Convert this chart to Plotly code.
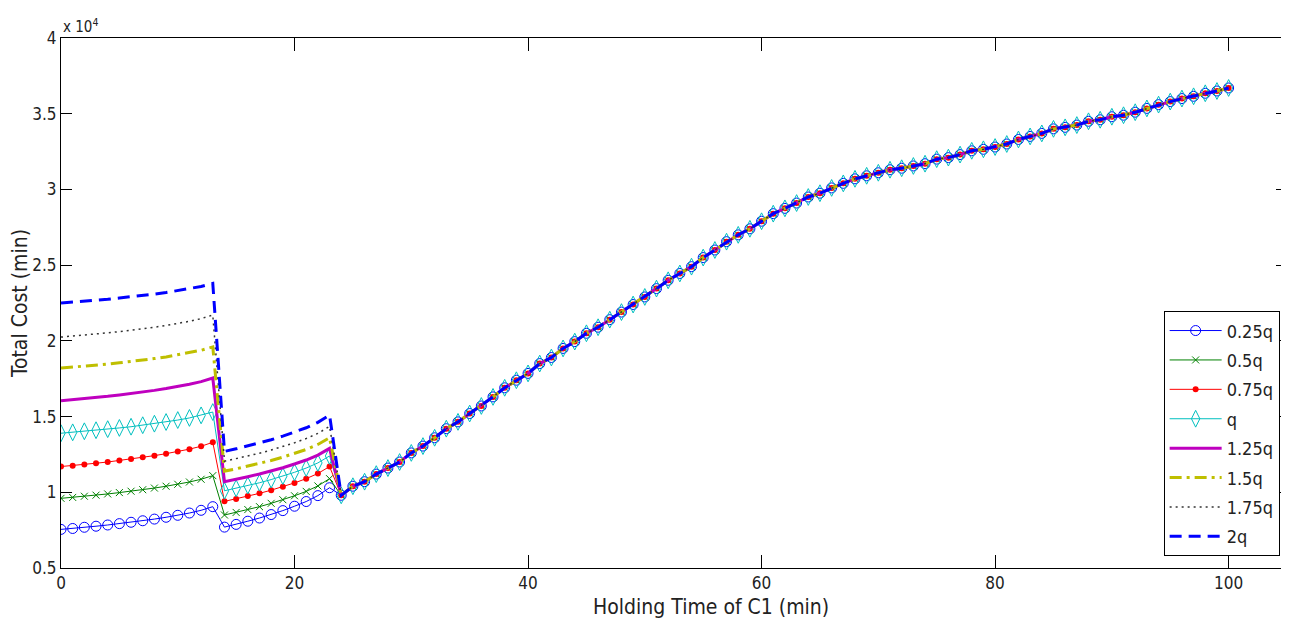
import plotly.graph_objects as go

# Holding time (min)
X = list(range(0, 101))

# Common curve from x = 24 to 100 (units of 10^4)
TAIL = [0.98, 1.04, 1.07, 1.12, 1.16, 1.20, 1.26, 1.305, 1.36, 1.42,
        1.465, 1.52, 1.57, 1.63, 1.69, 1.74, 1.785, 1.85, 1.89, 1.95,
        1.995, 2.05, 2.09, 2.14, 2.19, 2.24, 2.29, 2.345, 2.40, 2.445,
        2.49, 2.55, 2.60, 2.655, 2.70, 2.74, 2.79, 2.84, 2.875, 2.91,
        2.95, 2.975, 3.01, 3.04, 3.07, 3.09, 3.11, 3.13, 3.14, 3.155,
        3.17, 3.20, 3.21, 3.23, 3.255, 3.265, 3.28, 3.30, 3.33, 3.35,
        3.37, 3.40, 3.41, 3.425, 3.45, 3.46, 3.48, 3.49, 3.51, 3.535,
        3.56, 3.58, 3.60, 3.615, 3.635, 3.65, 3.67]

# x = 0..13
S1_025 = [0.755, 0.761, 0.769, 0.776, 0.784, 0.793, 0.802, 0.812, 0.823, 0.835, 0.848, 0.863, 0.881, 0.905]
S1_050 = [0.96, 0.966, 0.974, 0.981, 0.989, 0.998, 1.007, 1.017, 1.028, 1.040, 1.053, 1.068, 1.086, 1.11]
S1_075 = [1.17, 1.176, 1.184, 1.192, 1.200, 1.21, 1.22, 1.231, 1.242, 1.255, 1.269, 1.285, 1.304, 1.33]
S1_100 = [1.39, 1.396, 1.403, 1.41, 1.417, 1.425, 1.433, 1.443, 1.453, 1.464, 1.477, 1.491, 1.508, 1.53]
S1_125 = [1.605, 1.611, 1.619, 1.626, 1.634, 1.643, 1.652, 1.662, 1.673, 1.685, 1.698, 1.713, 1.731, 1.755]
S1_150 = [1.82, 1.826, 1.833, 1.84, 1.847, 1.855, 1.863, 1.873, 1.883, 1.894, 1.907, 1.921, 1.938, 1.96]
S1_175 = [2.025, 2.031, 2.038, 2.045, 2.053, 2.061, 2.07, 2.08, 2.09, 2.102, 2.115, 2.129, 2.147, 2.17]
S1_200 = [2.25, 2.255, 2.262, 2.268, 2.275, 2.283, 2.29, 2.299, 2.309, 2.319, 2.331, 2.344, 2.359, 2.38]

# x = 14..23
S2_025 = [0.77, 0.788, 0.809, 0.83, 0.853, 0.879, 0.908, 0.939, 0.978, 1.03]
S2_050 = [0.85, 0.867, 0.886, 0.905, 0.927, 0.951, 0.977, 1.006, 1.042, 1.09]
S2_075 = [0.94, 0.956, 0.975, 0.993, 1.014, 1.037, 1.062, 1.09, 1.124, 1.17]
S2_100 = [1.01, 1.026, 1.045, 1.063, 1.084, 1.107, 1.132, 1.16, 1.194, 1.24]
S2_125 = [1.07, 1.085, 1.103, 1.121, 1.14, 1.162, 1.187, 1.213, 1.246, 1.29]
S2_150 = [1.14, 1.155, 1.173, 1.191, 1.21, 1.232, 1.257, 1.283, 1.316, 1.36]
S2_175 = [1.205, 1.221, 1.24, 1.258, 1.279, 1.302, 1.327, 1.355, 1.389, 1.435]
S2_200 = [1.27, 1.287, 1.306, 1.325, 1.347, 1.371, 1.397, 1.426, 1.462, 1.51]

NAMES = ["0.25q", "0.5q", "0.75q", "q", "1.25q", "1.5q", "1.75q", "2q"]
SEG1 = [S1_025, S1_050, S1_075, S1_100, S1_125, S1_150, S1_175, S1_200]
SEG2 = [S2_025, S2_050, S2_075, S2_100, S2_125, S2_150, S2_175, S2_200]

X_TICKS = [0, 20, 40, 60, 80, 100]
Y_TICKS = [0.5, 1, 1.5, 2, 2.5, 3, 3.5, 4]
Y_TICK_TEXT = ["0.5", "1", "1.5", "2", "2.5", "3", "3.5", "4"]
X_TITLE = "Holding Time of C1 (min)"
Y_TITLE = "Total Cost (min)"

STYLES = [
    dict(line=dict(color="#0000ff", width=1), mode="lines+markers",
         marker=dict(symbol="circle-open", size=10, color="#0000ff", line=dict(width=1))),
    dict(line=dict(color="#008000", width=1), mode="lines+markers",
         marker=dict(symbol="x-thin-open", size=7, color="#008000", line=dict(width=1, color="#008000"))),
    dict(line=dict(color="#ff0000", width=1), mode="lines+markers",
         marker=dict(symbol="circle", size=6, color="#ff0000")),
    dict(line=dict(color="#00bfbf", width=1), mode="lines+markers",
         marker=dict(symbol="diamond-tall-open", size=12, color="#00bfbf", line=dict(width=1))),
    dict(line=dict(color="#bf00bf", width=3), mode="lines"),
    dict(line=dict(color="#bfbf00", width=3, dash="12px,5px,3px,5px"), mode="lines"),
    dict(line=dict(color="#333333", width=1.5, dash="2px,4px"), mode="lines"),
    dict(line=dict(color="#0000ff", width=3, dash="12px,7px"), mode="lines"),
]

FONT = "DejaVu Sans Condensed, sans-serif"

fig = go.Figure()
for name, s1, s2, st in zip(NAMES, SEG1, SEG2, STYLES):
    fig.add_trace(go.Scatter(x=X, y=s1 + s2 + TAIL, name=name, legendgroup=name, **st))

axis_common = dict(showline=True, linecolor="black", linewidth=1, mirror="ticks",
                   ticks="inside", tickcolor="black", showgrid=False, zeroline=False,
                   automargin=False,
                   tickfont=dict(family=FONT, size=17, color="#222"))

fig.update_layout(
    width=1281, height=622,
    margin=dict(l=53, r=2, t=30, b=62, autoexpand=False),
    paper_bgcolor="white", plot_bgcolor="white",
    font=dict(family=FONT, color="#222"),
    xaxis=dict(range=[0, 105], tickvals=X_TICKS, ticklen=13, **axis_common),
    yaxis=dict(range=[0.5, 4], tickvals=Y_TICKS, ticktext=Y_TICK_TEXT, ticklen=11,
               title=dict(text=Y_TITLE, font=dict(family=FONT, size=21)),
               **axis_common),
    legend=dict(x=0.994, y=0.022, xanchor="right", yanchor="bottom",
                bgcolor="white", bordercolor="black", borderwidth=1,
                font=dict(family=FONT, size=18, color="#222"), tracegroupgap=3,
                itemwidth=52),
    showlegend=True,
    annotations=[
        dict(text="x 10<sup>4</sup>", xref="paper", yref="paper", x=0, y=1,
             xanchor="left", yanchor="bottom", showarrow=False,
             font=dict(family=FONT, size=15, color="#222")),
        dict(text=X_TITLE, xref="paper", yref="paper", x=0.53, y=-0.074,
             xanchor="center", yanchor="middle", showarrow=False,
             font=dict(family=FONT, size=21, color="#222")),
    ],
)

fig.write_html("out.html")
